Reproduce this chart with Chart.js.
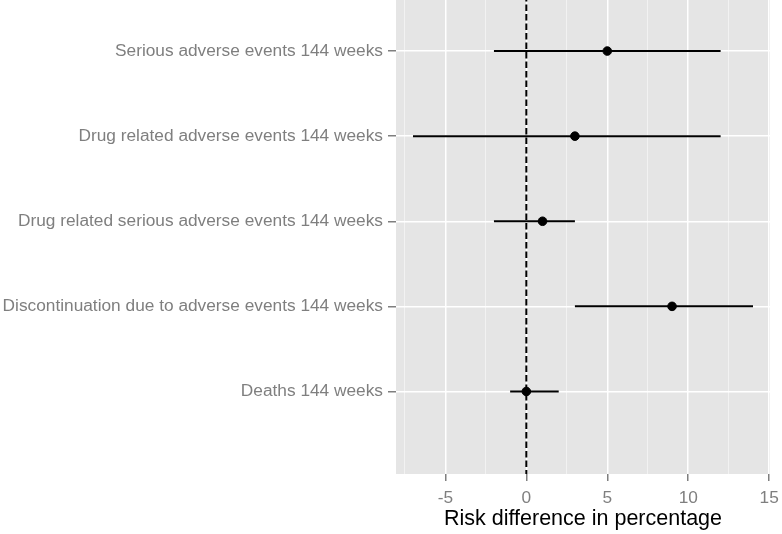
<!DOCTYPE html>
<html>
<head>
<meta charset="utf-8">
<script src="https://cdn.jsdelivr.net/npm/chart.js@4"></script>
<style>
html,body{margin:0;padding:0;background:#fff;}
#wrap{width:782px;height:534px;}
</style>
</head>
<body>
<div id="wrap"><canvas id="c" width="782" height="534"></canvas></div>
<script>
const categories = [
  "Serious adverse events 144 weeks",
  "Drug related adverse events 144 weeks",
  "Drug related serious adverse events 144 weeks",
  "Discontinuation due to adverse events 144 weeks",
  "Deaths 144 weeks"
];
const estimates = [5, 3, 1, 9, 0];
const lower = [-2, -7, -2, 3, -1];
const upper = [12, 12, 3, 14, 2];
const xTicks = [-5, 0, 5, 10, 15];
const xMinorTicks = [-7.5, -2.5, 2.5, 7.5, 12.5];
const refLine = 0;

const FONT = "'Liberation Sans', Arial, Helvetica, sans-serif";
const n = categories.length;
const rowPos = categories.map((c, i) => n - i);

const ciSets = categories.map((c, i) => ({
  type: 'scatter',
  label: c,
  data: [{x: lower[i], y: rowPos[i]}, {x: upper[i], y: rowPos[i]}],
  showLine: true,
  borderColor: '#000',
  borderWidth: 2,
  pointRadius: 0,
  order: 2
}));

const data = {
  datasets: [
    {
      type: 'scatter',
      label: 'ref',
      data: [{x: refLine, y: 0}, {x: refLine, y: 5.6}],
      showLine: true,
      borderColor: '#000',
      borderWidth: 2,
      borderDash: [6.5, 3],
      pointRadius: 0,
      order: 3
    },
    ...ciSets,
    {
      type: 'scatter',
      label: 'est',
      data: estimates.map((v, i) => ({x: v, y: rowPos[i]})),
      backgroundColor: '#000',
      borderColor: '#000',
      pointRadius: 4.3,
      pointHoverRadius: 4.3,
      order: 1
    }
  ]
};

const bgPlugin = {
  id: 'panelBg',
  beforeDraw(chart) {
    const {ctx, chartArea: a} = chart;
    ctx.save();
    ctx.fillStyle = '#E5E5E5';
    ctx.fillRect(a.left, a.top, a.right - a.left, a.bottom - a.top);
    ctx.restore();
  }
};

new Chart(document.getElementById('c'), {
  type: 'scatter',
  data,
  plugins: [bgPlugin],
  options: {
    responsive: false,
    animation: false,
    events: [],
    layout: {autoPadding: false, padding: {top: 0, right: 12, bottom: 2, left: 0}},
    plugins: {legend: {display: false}, tooltip: {enabled: false}},
    scales: {
      xMinor: {
        type: 'linear',
        position: 'bottom',
        min: -8.05, max: 15.05,
        z: -1,
        afterBuildTicks(s) { s.ticks = xMinorTicks.map(v => ({value: v})); },
        ticks: {display: false},
        grid: {color: '#F2F2F2', lineWidth: 1, drawTicks: false},
        border: {display: false},
        afterFit(s) { s.height = 0; s.paddingLeft = 0; s.paddingRight = 0; }
      },
      x: {
        type: 'linear',
        position: 'bottom',
        min: -8.05, max: 15.05,
        afterBuildTicks(s) { s.ticks = xTicks.map(v => ({value: v})); },
        ticks: {
          color: '#7F7F7F',
          font: {family: FONT, size: 17.3},
          padding: 7,
          maxRotation: 0,
          callback: v => String(v)
        },
        grid: {color: '#FFFFFF', lineWidth: 1.5, tickColor: '#7F7F7F', tickLength: 7, tickWidth: 1.5},
        border: {display: false},
        title: {
          display: true,
          text: 'Risk difference in percentage',
          color: '#000',
          font: {family: FONT, size: 21.5},
          padding: {top: 0, bottom: 0}
        },
        afterFit(s) { s.height = 58; s.paddingLeft = 0; s.paddingRight = 0; }
      },
      y: {
        type: 'linear',
        position: 'left',
        min: 0.03, max: 5.6,
        afterBuildTicks(s) { s.ticks = rowPos.map(v => ({value: v})); },
        ticks: {
          color: '#7F7F7F',
          font: {family: FONT, size: 17.3},
          padding: 5,
          callback: v => categories[n - v]
        },
        grid: {color: '#FFFFFF', lineWidth: 1.5, tickColor: '#7F7F7F', tickLength: 8, tickWidth: 1.5},
        border: {display: false},
        afterFit(s) { s.width = 396; s.paddingTop = 0; s.paddingBottom = 0; }
      }
    }
  }
});
</script>
</body>
</html>
